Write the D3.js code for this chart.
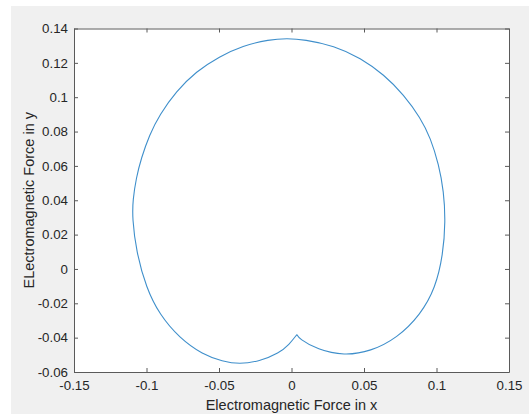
<!DOCTYPE html>
<html>
<head>
<meta charset="utf-8">
<script src="https://cdn.jsdelivr.net/npm/d3@7"></script>
<style>
  body { margin: 0; background: #fff; }
  svg { display: block; }
  text { font-family: "Liberation Sans", Arial, sans-serif; fill: #262626; }
</style>
</head>
<body>
<svg id="chart"></svg>
<script>
const CHART_WIDTH = 529;
const CHART_HEIGHT = 414;
const MARGIN = { left: 74, top: 28.5, right: 20, bottom: 42 };
const WIDTH = 509 - MARGIN.left;
const HEIGHT = 372 - MARGIN.top;

// force components, starting at the cusp near origin
const forceX = [0.0037, 0.0053, 0.0179, 0.0362, 0.0546, 0.0729, 0.089, 0.0993, 0.1045, 0.1062,
  0.105, 0.1016, 0.0959, 0.089, 0.0775, 0.0638, 0.0477, 0.0294, 0.0087, -0.003,
  -0.0154, -0.0337, -0.0497, -0.0658, -0.0795, -0.091, -0.098, -0.1036, -0.1071, -0.1094,
  -0.1098, -0.1071, -0.1002, -0.091, -0.0773, -0.0612, -0.0475, -0.036, -0.0222, -0.0085,
  -0.0016, 0.0037];
const forceY = [-0.0382, -0.0406, -0.047, -0.0505, -0.048, -0.0402, -0.0266, -0.011, 0.0083, 0.0277,
  0.0452, 0.0607, 0.0762, 0.0879, 0.1014, 0.1131, 0.1228, 0.130, 0.1336, 0.1342,
  0.1336, 0.130, 0.1237, 0.115, 0.1034, 0.0898, 0.078, 0.0646, 0.053, 0.0403,
  0.0297, 0.0102, -0.011, -0.0266, -0.0402, -0.0499, -0.0538, -0.0555, -0.0538, -0.0489,
  -0.0440, -0.0382];

const xTicks = [-0.15, -0.1, -0.05, 0, 0.05, 0.1, 0.15];
const yTicks = [-0.06, -0.04, -0.02, 0, 0.02, 0.04, 0.06, 0.08, 0.1, 0.12, 0.14];

const svg = d3.select('#chart')
    .attr('width', CHART_WIDTH)
    .attr('height', CHART_HEIGHT);

// figure background
svg.append('rect')
    .attr('x', 11).attr('y', 6)
    .attr('width', CHART_WIDTH - 11).attr('height', CHART_HEIGHT - 6)
    .attr('fill', '#f0f0f0');

const plot = svg.append('g')
    .attr('transform', `translate(${MARGIN.left},${MARGIN.top})`);

const x = d3.scaleLinear().domain([-0.15, 0.15]).range([0, WIDTH]);
const y = d3.scaleLinear().domain([-0.06, 0.14]).range([HEIGHT, 0]);

plot.append('rect')
    .attr('width', WIDTH).attr('height', HEIGHT)
    .attr('fill', '#fff');

const fmt = d => d === 0 ? '0' : String(+d.toFixed(2));

function styleAxis(g) {
    g.select('.domain').attr('stroke', '#5a5a5a');
    g.selectAll('.tick line').attr('stroke', '#5a5a5a');
    g.selectAll('text').attr('font-size', 13.3).attr('fill', '#262626')
        .attr('font-family', '"Liberation Sans", Arial, sans-serif');
}

plot.append('g')
    .attr('transform', `translate(0,${HEIGHT})`)
    .call(d3.axisBottom(x).tickValues(xTicks).tickFormat(fmt).tickSize(-4).tickSizeOuter(0).tickPadding(9))
    .call(styleAxis);

plot.append('g')
    .call(d3.axisTop(x).tickValues(xTicks).tickFormat('').tickSize(-4).tickSizeOuter(0))
    .call(styleAxis);

plot.append('g')
    .call(d3.axisLeft(y).tickValues(yTicks).tickFormat(fmt).tickSize(-4).tickSizeOuter(0).tickPadding(6))
    .call(styleAxis);

plot.append('g')
    .attr('transform', `translate(${WIDTH},0)`)
    .call(d3.axisRight(y).tickValues(yTicks).tickFormat('').tickSize(-4).tickSizeOuter(0))
    .call(styleAxis);

const points = forceX.map((v, i) => [v, forceY[i]]);

const line = d3.line()
    .x(d => x(d[0]))
    .y(d => y(d[1]))
    .curve(d3.curveBasis);

plot.append('path')
    .datum(points)
    .attr('d', line)
    .attr('fill', 'none')
    .attr('stroke', '#3f8fcb')
    .attr('stroke-width', 1.1);

svg.append('text')
    .attr('x', MARGIN.left + WIDTH / 2)
    .attr('y', 410)
    .attr('text-anchor', 'middle')
    .attr('font-size', 14.5)
    .text('Electromagnetic Force in x');

svg.append('text')
    .attr('transform', `translate(34,${MARGIN.top + HEIGHT / 2}) rotate(-90)`)
    .attr('text-anchor', 'middle')
    .attr('font-size', 14.5)
    .text('ELectromagnetic Force in y');
</script>
</body>
</html>
